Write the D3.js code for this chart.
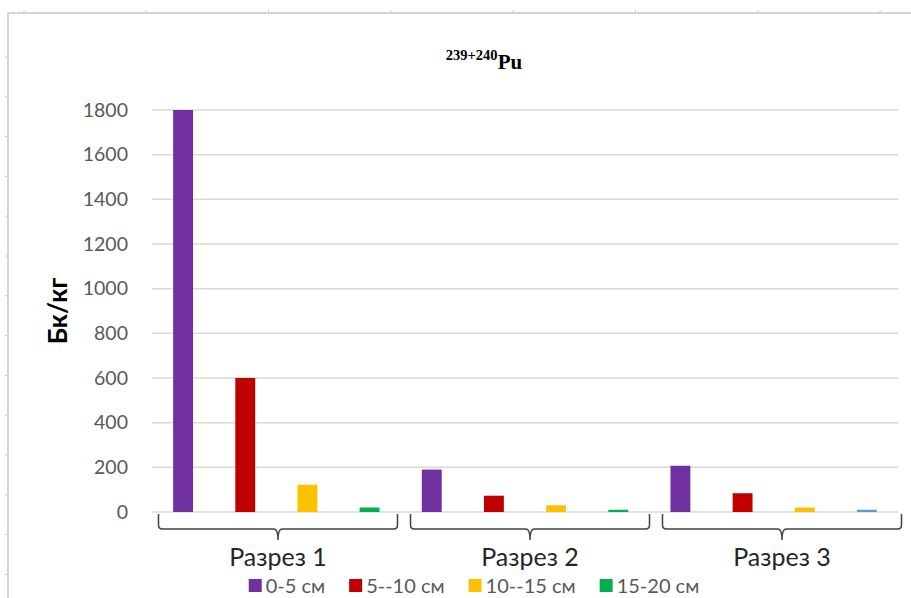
<!DOCTYPE html>
<html>
<head>
<meta charset="utf-8">
<script src="https://cdn.jsdelivr.net/npm/d3@7"></script>
<style>
  html, body { margin: 0; padding: 0; background: #fff; }
  svg { display: block; }
</style>
</head>
<body>
<svg id="chart" width="911" height="598"></svg>
<script>
// Activity of 239+240Pu by soil depth in three sections
const categories = ["Разрез 1", "Разрез 2", "Разрез 3"];
const seriesNames = ["0-5 см", "5--10 см", "10--15 см", "15-20 см"];
const values0_5 = [1800, 190, 207];
const values5_10 = [600, 73, 84];
const values10_15 = [122, 30, 20];
const values15_20 = [20, 10, 10];
const seriesColors = ["#7030A0", "#C00000", "#FFC000", "#00B050"];
// single point drawn in a different fill
const pointColorOverrides = { "Разрез 3|15-20 см": "#5B9BD5" };
const yTicks = [0, 200, 400, 600, 800, 1000, 1200, 1400, 1600, 1800];
const yLabel = "Бк/кг";

const seriesValues = [values0_5, values5_10, values10_15, values15_20];
const rows = [];
categories.forEach((c, ci) => {
  seriesNames.forEach((s, si) => {
    rows.push({ cat: c, series: s, si, value: seriesValues[si][ci] });
  });
});

const svg = d3.select("#chart");
const W = 911, H = 598;
const plot = { left: 152, right: 898, top: 110, bottom: 512 };

// page frame with ruler ticks
const frame = svg.append("g");
frame.append("path")
  .attr("d", `M8,${H} L8,13 L${W},13`)
  .attr("fill", "none").attr("stroke", "#d4d4d4").attr("stroke-width", 2);
d3.range(24, W, 122.3).forEach(x => {
  frame.append("line").attr("x1", x).attr("x2", x).attr("y1", 10).attr("y2", 12)
    .attr("stroke", "#c8c8c8").attr("stroke-width", 1);
});
d3.range(57, H, 39.8).forEach(y => {
  frame.append("line").attr("x1", 5).attr("x2", 7).attr("y1", y).attr("y2", y)
    .attr("stroke", "#c8c8c8").attr("stroke-width", 1);
});

// scales
const y = d3.scaleLinear().domain([0, 1800]).range([plot.bottom, plot.top]);
const x = d3.scaleBand().domain(categories).range([plot.left, plot.right]).padding(0);
const xs = d3.scaleBand().domain(seriesNames).range([0, x.bandwidth()]).padding(0);
const barW = xs.bandwidth() * 0.32;
const bracketX = d3.scaleBand().domain(categories).range([152, 908]).padding(0);

// gridlines
svg.append("g").selectAll("line").data(yTicks).join("line")
  .attr("x1", plot.left).attr("x2", plot.right)
  .attr("y1", d => y(d)).attr("y2", d => y(d))
  .attr("stroke", "#d9d9d9").attr("stroke-width", 1.5);

// y axis labels
const yAxis = svg.append("g").attr("transform", `translate(${plot.left},0)`)
  .call(d3.axisLeft(y).tickValues(yTicks).tickSize(0).tickPadding(24).tickFormat(d3.format("d")));
yAxis.select(".domain").remove();
yAxis.selectAll("text")
  .attr("fill", "#595959").style("font-family", "Lato, 'Open Sans', sans-serif")
  .style("font-size", "19.5px");

// axis title
svg.append("text")
  .attr("transform", "translate(67,311) rotate(-90)")
  .attr("text-anchor", "middle")
  .style("font-family", "Lato, 'Open Sans', sans-serif")
  .style("font-weight", "bold").style("font-size", "26px")
  .attr("fill", "#000").text(yLabel);

// chart title
const title = svg.append("text")
  .attr("x", 484).attr("y", 69).attr("text-anchor", "middle")
  .style("font-family", "'Liberation Serif', 'Times New Roman', serif")
  .style("font-weight", "bold").attr("fill", "#000");
title.append("tspan").attr("dy", -9).style("font-size", "14.5px").text("239+240");
title.append("tspan").attr("dy", 9).style("font-size", "21px").text("Pu");

// bars
svg.append("g").selectAll("rect").data(rows).join("rect")
  .attr("x", d => x(d.cat) + xs(d.series) + (xs.bandwidth() - barW) / 2)
  .attr("width", barW)
  .attr("y", d => y(d.value))
  .attr("height", d => y(0) - y(d.value))
  .attr("fill", d => pointColorOverrides[d.cat + "|" + d.series] || seriesColors[d.si]);

// category brackets and labels
const bg = svg.append("g");
categories.forEach(c => {
  const cx = bracketX(c) + bracketX.bandwidth() / 2;
  const a = cx - 119.5, b = cx + 119.5;
  const top = 514, mid = 529, tip = 540;
  bg.append("path")
    .attr("d", `M${a},${top} L${a},${mid - 4} Q${a},${mid} ${a + 4},${mid} L${cx - 4},${mid} Q${cx},${mid} ${cx},${tip} Q${cx},${mid} ${cx + 4},${mid} L${b - 4},${mid} Q${b},${mid} ${b},${mid - 4} L${b},${top}`)
    .attr("fill", "none").attr("stroke", "#404040").attr("stroke-width", 1.5);
  bg.append("text")
    .attr("x", cx).attr("y", 566).attr("text-anchor", "middle")
    .style("font-family", "Lato, 'Open Sans', sans-serif")
    .style("font-size", "25px").attr("fill", "#262626").text(c);
});

// legend
const lg = svg.append("g");
const items = seriesNames.map((s, i) => {
  const g = lg.append("g");
  g.append("rect").attr("width", 13).attr("height", 13).attr("y", 579).attr("fill", seriesColors[i]);
  const t = g.append("text").attr("x", 17).attr("y", 593)
    .style("font-family", "Lato, 'Open Sans', sans-serif")
    .style("font-size", "20px").attr("fill", "#595959").text(s);
  return { g, w: 17 + t.node().getComputedTextLength() };
});
const gap = 24;
const total = d3.sum(items, d => d.w) + gap * (items.length - 1);
let cur = 474 - total / 2;
items.forEach(it => { it.g.attr("transform", `translate(${cur},0)`); cur += it.w + gap; });
</script>
</body>
</html>
